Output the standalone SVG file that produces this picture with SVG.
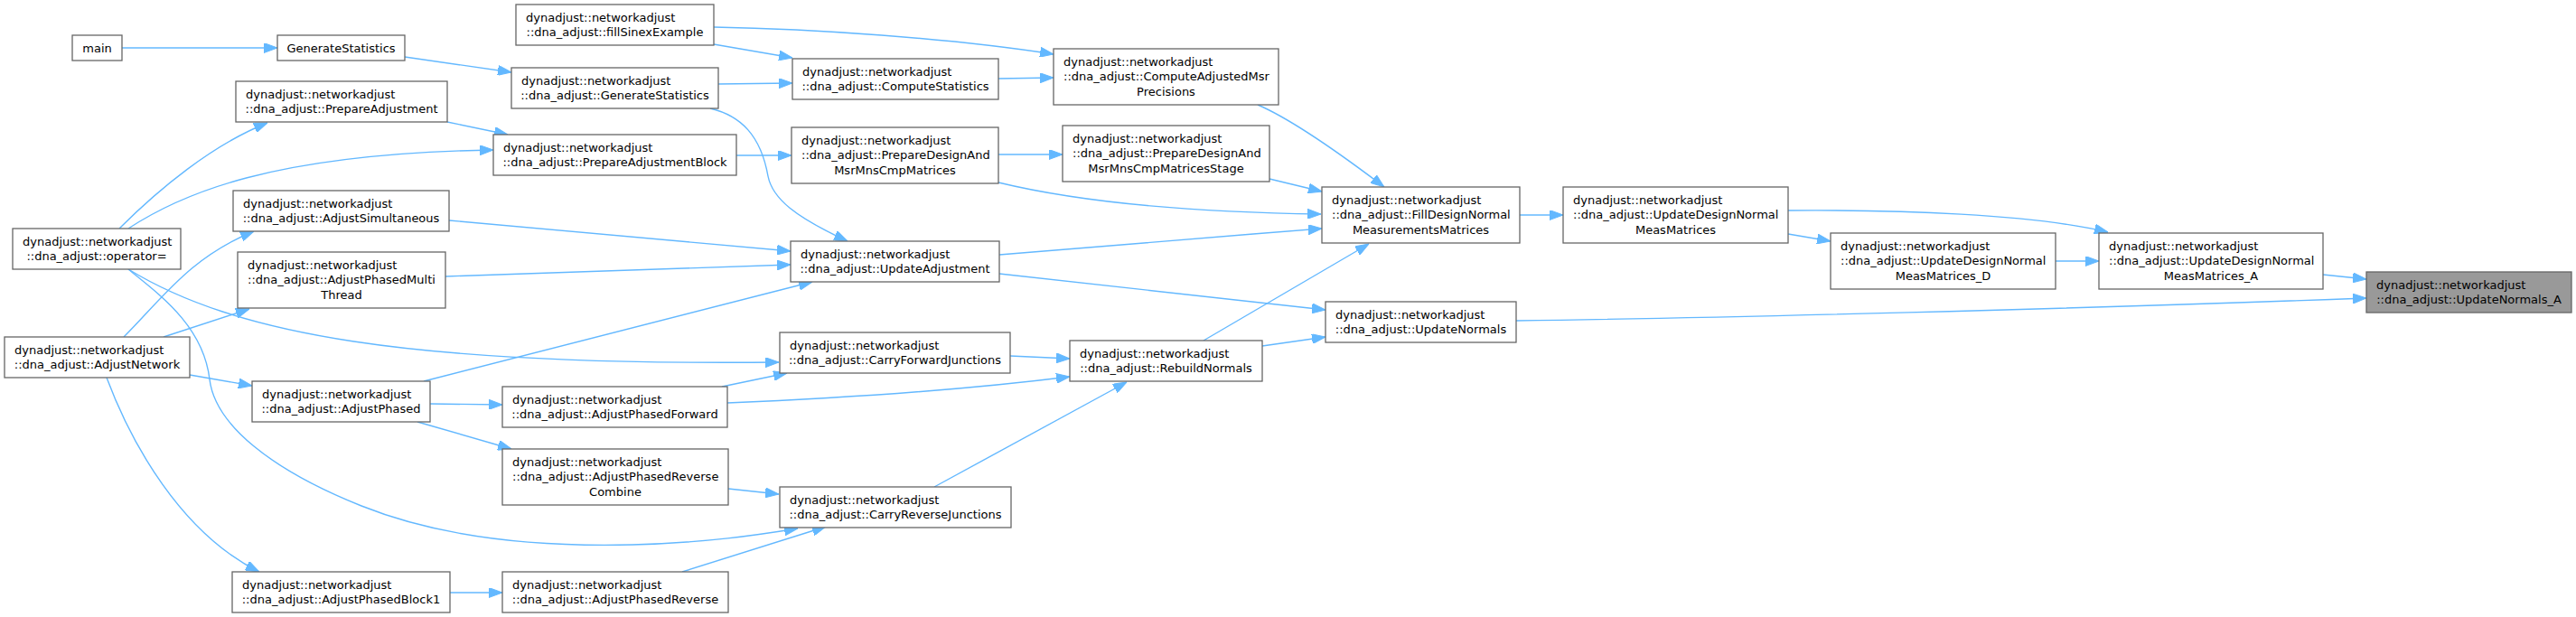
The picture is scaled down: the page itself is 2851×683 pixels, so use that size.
<svg xmlns="http://www.w3.org/2000/svg" width="2851" height="683" viewBox="0 0 2851 683">
<style>
.n rect{fill:#fff;stroke:#666;stroke-width:1.3}
.n text{font-family:"DejaVu Sans",sans-serif;font-size:13px;fill:#000}
.n .m{text-anchor:middle}
#UNA rect{fill:#999}
.e path{fill:none;stroke:#63b8ff;stroke-width:1.4;marker-end:url(#a)}
</style>
<defs>
<marker id="a" viewBox="0 0 15 11" refX="15" refY="5.5" markerWidth="15" markerHeight="11" markerUnits="userSpaceOnUse" orient="auto">
<path d="M0,0 L15,5.5 L0,11 z" fill="#63b8ff" stroke="#63b8ff" stroke-width="1"/>
</marker>
</defs>
<rect width="2851" height="683" fill="#fff"/>
<g class="e">
<path d="M135,53 L307,53"/>
<path d="M448,63 L566,80"/>
<path d="M495,135 L562,149"/>
<path d="M132,253 C175,210 235,160 296,136"/>
<path d="M142,253 C200,215 300,170 546,166"/>
<path d="M137,373 C180,330 210,285 281,256"/>
<path d="M181,373 L276,342"/>
<path d="M142,298 C260,370 450,405 862,401"/>
<path d="M142,298 C175,325 225,360 232,420 C238,470 300,520 400,560 C480,592 580,606 700,603 C780,601 840,592 883,585"/>
<path d="M210,415 L279,427"/>
<path d="M118,418 C145,490 200,590 287,633"/>
<path d="M476,447 L556,448"/>
<path d="M462,467 L566,497"/>
<path d="M469,422 L899,312"/>
<path d="M799,428 L871,413"/>
<path d="M805,446 C950,440 1080,430 1184,417"/>
<path d="M806,541 L862,547"/>
<path d="M755,633 L914,583"/>
<path d="M498,656 L556,656"/>
<path d="M1118,394 L1184,397"/>
<path d="M1034,539 L1247,423"/>
<path d="M1397,383 L1467,373"/>
<path d="M1332,377 L1515,270"/>
<path d="M1106,282 C1250,270 1350,262 1463,253"/>
<path d="M1106,303 L1467,343"/>
<path d="M1105,202 C1200,225 1320,235 1462,237"/>
<path d="M1105,171 L1176,171"/>
<path d="M1405,198 L1463,212"/>
<path d="M1392,116 C1420,128 1470,160 1532,207"/>
<path d="M1105,87 L1166,86"/>
<path d="M790,30 C900,32 1050,42 1166,60"/>
<path d="M790,49 L877,64"/>
<path d="M795,93 L877,92"/>
<path d="M786,120 C820,128 842,150 850,195 C855,220 880,240 938,267"/>
<path d="M815,172 L876,172"/>
<path d="M497,244 L875,278"/>
<path d="M493,306 L875,293"/>
<path d="M1682,238 L1730,238"/>
<path d="M1979,259 L2026,267"/>
<path d="M1979,233 C2100,232 2250,237 2333,257"/>
<path d="M2275,289 L2323,289"/>
<path d="M2571,304 L2619,309"/>
<path d="M1678,355 C1900,352 2300,342 2619,330"/>
</g>
<g id="main" class="n"><rect x="80" y="39" width="55" height="28"/><text class="m" x="107.5" y="57.5">main</text></g>
<g id="GenStats" class="n"><rect x="307" y="39" width="141" height="28"/><text class="m" x="377.5" y="57.5">GenerateStatistics</text></g>
<g id="PrepAdj" class="n"><rect x="261" y="90" width="234" height="45"/><text x="272" y="108.5">dynadjust::networkadjust</text><text class="m" x="378" y="125.2">::dna_adjust::PrepareAdjustment</text></g>
<g id="opEq" class="n"><rect x="14" y="253" width="186" height="45"/><text x="25" y="271.5">dynadjust::networkadjust</text><text class="m" x="107" y="288.2">::dna_adjust::operator=</text></g>
<g id="AdjSim" class="n"><rect x="258" y="211" width="239" height="45"/><text x="269" y="229.5">dynadjust::networkadjust</text><text class="m" x="377.5" y="246.2">::dna_adjust::AdjustSimultaneous</text></g>
<g id="AdjPMT" class="n"><rect x="263" y="279" width="230" height="62"/><text x="274" y="297.5">dynadjust::networkadjust</text><text x="274" y="314.2">::dna_adjust::AdjustPhasedMulti</text><text class="m" x="378" y="330.9">Thread</text></g>
<g id="AdjNet" class="n"><rect x="5" y="373" width="205" height="45"/><text x="16" y="391.5">dynadjust::networkadjust</text><text class="m" x="107.5" y="408.2">::dna_adjust::AdjustNetwork</text></g>
<g id="AdjPhased" class="n"><rect x="279" y="422" width="197" height="45"/><text x="290" y="440.5">dynadjust::networkadjust</text><text class="m" x="377.5" y="457.2">::dna_adjust::AdjustPhased</text></g>
<g id="AdjPB1" class="n"><rect x="257" y="633" width="241" height="45"/><text x="268" y="651.5">dynadjust::networkadjust</text><text class="m" x="377.5" y="668.2">::dna_adjust::AdjustPhasedBlock1</text></g>
<g id="fillSinex" class="n"><rect x="571" y="5" width="219" height="45"/><text x="582" y="23.5">dynadjust::networkadjust</text><text class="m" x="680.5" y="40.2">::dna_adjust::fillSinexExample</text></g>
<g id="GenStats2" class="n"><rect x="566" y="75" width="229" height="45"/><text x="577" y="93.5">dynadjust::networkadjust</text><text class="m" x="680.5" y="110.2">::dna_adjust::GenerateStatistics</text></g>
<g id="PrepAdjBlock" class="n"><rect x="546" y="149" width="269" height="45"/><text x="557" y="167.5">dynadjust::networkadjust</text><text class="m" x="680.5" y="184.2">::dna_adjust::PrepareAdjustmentBlock</text></g>
<g id="AdjPF" class="n"><rect x="556" y="428" width="249" height="45"/><text x="567" y="446.5">dynadjust::networkadjust</text><text class="m" x="680.5" y="463.2">::dna_adjust::AdjustPhasedForward</text></g>
<g id="AdjPRC" class="n"><rect x="556" y="497" width="250" height="62"/><text x="567" y="515.5">dynadjust::networkadjust</text><text x="567" y="532.2">::dna_adjust::AdjustPhasedReverse</text><text class="m" x="681" y="548.9">Combine</text></g>
<g id="AdjPR" class="n"><rect x="556" y="633" width="250" height="45"/><text x="567" y="651.5">dynadjust::networkadjust</text><text class="m" x="681" y="668.2">::dna_adjust::AdjustPhasedReverse</text></g>
<g id="CompStats" class="n"><rect x="877" y="65" width="228" height="45"/><text x="888" y="83.5">dynadjust::networkadjust</text><text class="m" x="991" y="100.2">::dna_adjust::ComputeStatistics</text></g>
<g id="PDAMMCM" class="n"><rect x="876" y="141" width="229" height="62"/><text x="887" y="159.5">dynadjust::networkadjust</text><text x="887" y="176.2">::dna_adjust::PrepareDesignAnd</text><text class="m" x="990.5" y="192.9">MsrMnsCmpMatrices</text></g>
<g id="UpdAdj" class="n"><rect x="875" y="267" width="231" height="45"/><text x="886" y="285.5">dynadjust::networkadjust</text><text class="m" x="990.5" y="302.2">::dna_adjust::UpdateAdjustment</text></g>
<g id="CFJ" class="n"><rect x="863" y="368" width="255" height="45"/><text x="874" y="386.5">dynadjust::networkadjust</text><text class="m" x="990.5" y="403.2">::dna_adjust::CarryForwardJunctions</text></g>
<g id="CRJ" class="n"><rect x="863" y="539" width="256" height="45"/><text x="874" y="557.5">dynadjust::networkadjust</text><text class="m" x="991" y="574.2">::dna_adjust::CarryReverseJunctions</text></g>
<g id="CAMP" class="n"><rect x="1166" y="54" width="249" height="62"/><text x="1177" y="72.5">dynadjust::networkadjust</text><text x="1177" y="89.2">::dna_adjust::ComputeAdjustedMsr</text><text class="m" x="1290.5" y="105.9">Precisions</text></g>
<g id="PDAMMCMS" class="n"><rect x="1176" y="139" width="229" height="62"/><text x="1187" y="157.5">dynadjust::networkadjust</text><text x="1187" y="174.2">::dna_adjust::PrepareDesignAnd</text><text class="m" x="1290.5" y="190.9">MsrMnsCmpMatricesStage</text></g>
<g id="FDNMM" class="n"><rect x="1463" y="207" width="219" height="62"/><text x="1474" y="225.5">dynadjust::networkadjust</text><text x="1474" y="242.2">::dna_adjust::FillDesignNormal</text><text class="m" x="1572.5" y="258.9">MeasurementsMatrices</text></g>
<g id="UpdNorm" class="n"><rect x="1467" y="334" width="211" height="45"/><text x="1478" y="352.5">dynadjust::networkadjust</text><text class="m" x="1572.5" y="369.2">::dna_adjust::UpdateNormals</text></g>
<g id="Rebuild" class="n"><rect x="1184" y="377" width="213" height="45"/><text x="1195" y="395.5">dynadjust::networkadjust</text><text class="m" x="1290.5" y="412.2">::dna_adjust::RebuildNormals</text></g>
<g id="UDNMM" class="n"><rect x="1730" y="207" width="249" height="62"/><text x="1741" y="225.5">dynadjust::networkadjust</text><text x="1741" y="242.2">::dna_adjust::UpdateDesignNormal</text><text class="m" x="1854.5" y="258.9">MeasMatrices</text></g>
<g id="UDNMM_D" class="n"><rect x="2026" y="258" width="249" height="62"/><text x="2037" y="276.5">dynadjust::networkadjust</text><text x="2037" y="293.2">::dna_adjust::UpdateDesignNormal</text><text class="m" x="2150.5" y="309.9">MeasMatrices_D</text></g>
<g id="UDNMM_A" class="n"><rect x="2323" y="258" width="248" height="62"/><text x="2334" y="276.5">dynadjust::networkadjust</text><text x="2334" y="293.2">::dna_adjust::UpdateDesignNormal</text><text class="m" x="2447" y="309.9">MeasMatrices_A</text></g>
<g id="UNA" class="n"><rect x="2619" y="301" width="227" height="45"/><text x="2630" y="319.5">dynadjust::networkadjust</text><text class="m" x="2732.5" y="336.2">::dna_adjust::UpdateNormals_A</text></g>
</svg>
